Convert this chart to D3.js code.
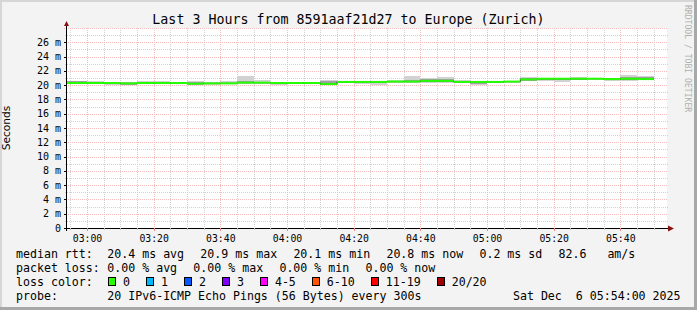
<!DOCTYPE html>
<html>
<head>
<meta charset="utf-8">
<script src="https://cdn.jsdelivr.net/npm/d3@7"></script>
<style>
  body { margin: 0; background: #f3f3f3; }
  svg { display: block; }
  text { font-family: "DejaVu Sans Mono", monospace; fill: #000; }
</style>
</head>
<body>
<div class="canvas"></div>
<script>
// 5 minute steps, labelled by the end of each step
const stepTimes = ["03:00","03:05","03:10","03:15","03:20","03:25","03:30","03:35","03:40","03:45",
  "03:50","03:55","04:00","04:05","04:10","04:15","04:20","04:25","04:30","04:35",
  "04:40","04:45","04:50","04:55","05:00","05:05","05:10","05:15","05:20","05:25",
  "05:30","05:35","05:40","05:45","05:50"];

// median rtt (ms)
const median = [20.3,20.3,20.3,20.25,20.3,20.3,20.3,20.2,20.25,20.25,
  20.35,20.35,20.3,20.3,20.3,20.15,20.45,20.45,20.45,20.5,
  20.5,20.6,20.6,20.45,20.45,20.45,20.5,20.8,20.9,20.9,
  20.9,20.9,20.85,20.9,20.85];

// smoke: spread of the 20 pings (ms)
const pingMin = [20.1,20.15,20.0,20.0,20.15,20.15,20.1,20.05,20.05,20.1,
  20.2,20.15,20.0,20.15,20.15,20.0,20.3,20.15,20.05,20.3,
  20.35,20.35,20.35,20.3,20.0,20.3,20.35,20.55,20.65,20.5,
  20.7,20.75,20.65,20.55,20.7];
const pingQ1 = [20.2,20.2,20.1,20.05,20.2,20.2,20.2,20.1,20.15,20.15,
  20.25,20.25,20.1,20.2,20.2,20.05,20.35,20.35,20.3,20.4,
  20.4,20.45,20.45,20.35,20.2,20.35,20.4,20.65,20.75,20.7,
  20.75,20.8,20.7,20.7,20.75];
const pingQ3 = [20.55,20.45,20.4,20.35,20.5,20.45,20.4,20.45,20.35,20.35,
  20.6,20.5,20.4,20.4,20.4,20.55,20.55,20.55,20.55,20.6,
  20.7,20.8,20.9,20.6,20.55,20.55,20.6,21.0,21.0,20.95,
  21.0,21.0,20.95,21.1,21.2];
const pingMax = [20.65,20.65,20.45,20.4,20.6,20.65,20.5,20.55,20.5,20.55,
  21.3,20.75,20.5,20.5,20.45,20.7,20.6,20.6,20.6,20.7,
  21.3,21.0,21.2,20.7,20.65,20.6,20.65,21.1,21.05,21.05,
  21.1,21.05,21.05,21.4,21.3];

// axes
const xTickLabels = ["03:00","03:20","03:40","04:00","04:20","04:40","05:00","05:20","05:40"];
const yTicks = [0,2,4,6,8,10,12,14,16,18,20,22,24,26];

// legend
const rttStats = ["20.4 ms avg","20.9 ms max","20.1 ms min","20.8 ms now","0.2 ms sd","82.6   am/s"];
const lossStats = ["0.00 % avg","0.00 % max","0.00 % min","0.00 % now"];
const lossLabels = ["0","1","2","3","4-5","6-10","11-19","20/20"];
const lossColors = ["#26ff00","#00b8ff","#0059ff","#7e00ff","#ff00ff","#ff5500","#ff0000","#a10000"];
const probeText = "20 IPv6-ICMP Echo Pings (56 Bytes) every 300s";
const dateText = "Sat Dec  6 05:54:00 2025";
const title = "Last 3 Hours from 8591aaf21d27 to Europe (Zurich)";

const W = 697, H = 310;
const plot = { left: 67, right: 667, top: 28, bottom: 228 };
const charW = 6.98;

const parse = d3.timeParse("%H:%M");

const x = d3.scaleTime()
    .domain([parse("02:54"), parse("05:54")])
    .range([plot.left, plot.right]);

const y = d3.scaleLinear()
    .domain([0, 28])
    .range([plot.bottom, plot.top]);

const svg = d3.select('.canvas')
  .append('svg')
    .attr('width', W)
    .attr('height', H);

// background + 3d frame
svg.append('rect').attr('width', W).attr('height', H).attr('fill', '#f3f3f3');
svg.append('rect').attr('x', 0).attr('y', 0).attr('width', W).attr('height', 2).attr('fill', '#d6d6d6');
svg.append('rect').attr('x', 0).attr('y', 0).attr('width', 2).attr('height', H).attr('fill', '#d6d6d6');
svg.append('rect').attr('x', W - 3).attr('y', 0).attr('width', 3).attr('height', H).attr('fill', '#a8a8a8');
svg.append('rect').attr('x', 0).attr('y', H - 3).attr('width', W).attr('height', 3).attr('fill', '#a8a8a8');

// canvas
svg.append('rect')
    .attr('x', plot.left).attr('y', plot.top)
    .attr('width', plot.right - plot.left).attr('height', plot.bottom - plot.top)
    .attr('fill', '#fff');

// grid
const grid = svg.append('g').attr('shape-rendering', 'crispEdges');

const minorX = x.ticks(d3.timeMinute.every(5));
const majorX = x.ticks(d3.timeMinute.every(20));
const isMajorX = d => d.getMinutes() % 20 === 0;

grid.selectAll('line.vminor')
  .data(minorX.filter(d => !isMajorX(d)))
  .enter().append('line')
    .attr('x1', d => Math.round(x(d)) + 0.5).attr('x2', d => Math.round(x(d)) + 0.5)
    .attr('y1', plot.top).attr('y2', plot.bottom)
    .attr('stroke', '#d2d2d2').attr('stroke-dasharray', '1,1');

grid.selectAll('line.hminor')
  .data(d3.range(1, 28, 2))
  .enter().append('line')
    .attr('x1', plot.left - 2).attr('x2', plot.right + 1)
    .attr('y1', d => Math.round(y(d)) + 0.5).attr('y2', d => Math.round(y(d)) + 0.5)
    .attr('stroke', '#d2d2d2').attr('stroke-dasharray', '1,1');

grid.selectAll('line.vmajor')
  .data(majorX)
  .enter().append('line')
    .attr('x1', d => Math.round(x(d)) + 0.5).attr('x2', d => Math.round(x(d)) + 0.5)
    .attr('y1', plot.top).attr('y2', plot.bottom + 3)
    .attr('stroke', '#f7bcbc').attr('stroke-dasharray', '1,1');

grid.selectAll('line.hmajor')
  .data(yTicks.filter(d => d > 0).concat([28]))
  .enter().append('line')
    .attr('x1', plot.left - 3).attr('x2', plot.right + 1)
    .attr('y1', d => Math.round(y(d)) + 0.5).attr('y2', d => Math.round(y(d)) + 0.5)
    .attr('stroke', '#f7bcbc').attr('stroke-dasharray', '1,1');

// steps built from the arrays
const steps = stepTimes.map((t, i) => ({
  x0: i === 0 ? x.domain()[0] : parse(stepTimes[i - 1]),
  x1: parse(t),
  med: median[i], lo: pingMin[i], q1: pingQ1[i], q3: pingQ3[i], hi: pingMax[i]
}));

const data = svg.append('g').attr('shape-rendering', 'crispEdges');

// smoke, outer band
data.selectAll('rect.smoke')
  .data(steps)
  .enter().append('rect')
    .attr('x', d => x(d.x0)).attr('width', d => x(d.x1) - x(d.x0))
    .attr('y', d => y(d.hi)).attr('height', d => y(d.lo) - y(d.hi))
    .attr('fill', '#d2d2d2');

// smoke, inner band
data.selectAll('rect.core')
  .data(steps)
  .enter().append('rect')
    .attr('x', d => x(d.x0)).attr('width', d => x(d.x1) - x(d.x0))
    .attr('y', d => y(d.q3)).attr('height', d => y(d.q1) - y(d.q3))
    .attr('fill', '#a0a0a0');

// median, coloured by loss (all 0 loss here)
const medPts = steps.flatMap(d => [[d.x0, d.med], [d.x1, d.med]]);
const medLine = d3.line().x(d => x(d[0])).y(d => y(d[1]));

svg.append('path')
    .attr('d', medLine(medPts))
    .attr('fill', 'none')
    .attr('stroke', '#202020')
    .attr('stroke-width', 1);

svg.append('g').selectAll('line.med')
  .data(steps)
  .enter().append('line')
    .attr('x1', d => x(d.x0)).attr('x2', d => x(d.x1))
    .attr('y1', d => y(d.med)).attr('y2', d => y(d.med))
    .attr('stroke', lossColors[0])
    .attr('stroke-width', 2);

// axes lines
const axes = svg.append('g').attr('shape-rendering', 'crispEdges');
axes.append('line')
    .attr('x1', plot.left - 0.5).attr('x2', plot.left - 0.5)
    .attr('y1', plot.bottom + 3).attr('y2', plot.top - 3)
    .attr('stroke', '#000');
axes.append('line')
    .attr('x1', plot.left - 3).attr('x2', plot.right + 2)
    .attr('y1', plot.bottom + 0.5).attr('y2', plot.bottom + 0.5)
    .attr('stroke', '#000');

// ticks
axes.selectAll('line.yt')
  .data(yTicks)
  .enter().append('line')
    .attr('x1', plot.left - 3).attr('x2', plot.left)
    .attr('y1', d => Math.round(y(d)) + 0.5).attr('y2', d => Math.round(y(d)) + 0.5)
    .attr('stroke', '#000');
axes.selectAll('line.xt')
  .data(minorX)
  .enter().append('line')
    .attr('x1', d => Math.round(x(d)) + 0.5).attr('x2', d => Math.round(x(d)) + 0.5)
    .attr('y1', plot.bottom).attr('y2', d => plot.bottom + (isMajorX(d) ? 3 : 2))
    .attr('stroke', d => isMajorX(d) ? '#e88080' : '#bbb');

// arrows
svg.append('path')
    .attr('d', `M${plot.left - 3},${plot.top - 2}L${plot.left - 0.5},${plot.top - 7}L${plot.left + 2},${plot.top - 2}Z`)
    .attr('fill', '#8b1010');
svg.append('path')
    .attr('d', `M${plot.right + 1},${plot.bottom - 2.5}L${plot.right + 7},${plot.bottom + 0.5}L${plot.right + 1},${plot.bottom + 3.5}Z`)
    .attr('fill', '#8b1010');

// tick labels
svg.append('g').selectAll('text')
  .data(yTicks)
  .enter().append('text')
    .attr('x', 61).attr('y', d => y(d)).attr('dy', '0.36em')
    .attr('text-anchor', 'end')
    .style('font-size', '10px')
    .text(d => d === 0 ? '0' : `${d} m`);

svg.append('g').selectAll('text')
  .data(xTickLabels)
  .enter().append('text')
    .attr('x', d => x(parse(d)) + 0.5).attr('y', 241.5)
    .attr('text-anchor', 'middle')
    .style('font-size', '9.8px')
    .text(d => d);

// title
svg.append('text')
    .attr('x', W / 2).attr('y', 24)
    .attr('text-anchor', 'middle')
    .style('font-size', '13.3px')
    .text(title);

// y label
svg.append('text')
    .attr('transform', `translate(10, ${(plot.top + plot.bottom) / 2}) rotate(-90)`)
    .attr('text-anchor', 'middle')
    .style('font-family', '"DejaVu Sans", sans-serif')
    .style('font-size', '10.6px')
    .text('Seconds');

// watermark
svg.append('text')
    .attr('transform', 'translate(685, 5) rotate(90)')
    .style('font-size', '8.1px')
    .style('fill', '#b0b0b0')
    .text('RRDTOOL / TOBI OETIKER');

// legend
const legend = svg.append('g').style('font-size', '11.6px');
const col0 = 16, col1 = 107.3, gap = 2.3;

const row = (items, baseline, start) => {
  let cx = start;
  items.forEach(s => {
    legend.append('text').attr('x', cx).attr('y', baseline).attr('xml:space', 'preserve').text(s);
    cx += (s.length + 2) * charW + gap;
  });
};

legend.append('text').attr('x', col0).attr('y', 258).text('median rtt:');
row(rttStats, 258, col1);
legend.append('text').attr('x', col0).attr('y', 272).text('packet loss:');
row(lossStats, 272, col1);

legend.append('text').attr('x', col0).attr('y', 286).text('loss color:');
let bx = 108.5;
lossLabels.forEach((l, i) => {
  legend.append('rect')
      .attr('x', bx).attr('y', 277.5).attr('width', 7).attr('height', 8)
      .attr('fill', lossColors[i]).attr('stroke', '#000').attr('stroke-width', 1)
      .attr('shape-rendering', 'crispEdges');
  legend.append('text').attr('x', bx + 14.5).attr('y', 286).text(l);
  bx += 8 + 7 + l.length * charW + 16;
});

legend.append('text').attr('x', col0).attr('y', 300).text('probe:');
legend.append('text').attr('x', col1).attr('y', 300).text(probeText);
legend.append('text').attr('x', 680.5).attr('y', 300).attr('text-anchor', 'end')
    .attr('xml:space', 'preserve').text(dateText);
</script>
</body>
</html>
